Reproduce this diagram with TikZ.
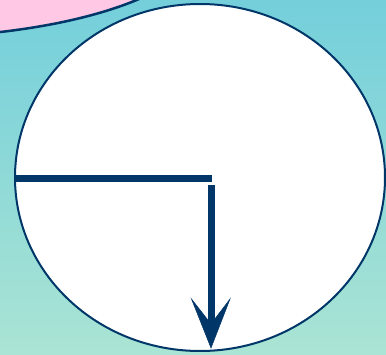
\documentclass[tikz,border=0pt]{standalone}
\definecolor{bgtop}{RGB}{116,207,219}
\definecolor{bgbot}{RGB}{170,228,212}
\definecolor{pinkfill}{RGB}{255,200,228}
\definecolor{navy}{RGB}{0,54,104}
\tikzset{
  outline/.style={draw=navy, line width=2pt},
  bar/.style={draw=navy, line width=7pt},
  headfill/.style={fill=navy, draw=navy, line width=0.5pt, line join=miter},
}
\begin{document}
\begin{tikzpicture}[x=1pt,y=-1pt]
  \useasboundingbox (0,0) rectangle (386,354);
  \shade[top color=bgtop, bottom color=bgbot] (0,0) rectangle (386,354);
  \begin{scope}
    \clip (0,0) rectangle (386,354);
    \path[outline, fill=pinkfill, line width=2.5pt] (-100,-60) ellipse [x radius=300, y radius=97.6];
  \end{scope}
  \path[outline, fill=white] (200,177.5) ellipse [x radius=185, y radius=173.5];
  \coordinate (hstart) at (15,178);
  \coordinate (hend) at (212,178);
  \coordinate (vstart) at (211,185);
  \coordinate (notch) at (211,324);
  \coordinate (wingl) at (191.5,299);
  \coordinate (wingr) at (230,299);
  \coordinate (tip) at (211,348);
  \draw[bar] (hstart) -- (hend);
  \draw[bar] (vstart) -- (notch);
  \path[headfill] (tip) -- (wingl) -- (notch) -- (wingr) -- cycle;
\end{tikzpicture}
\end{document}
